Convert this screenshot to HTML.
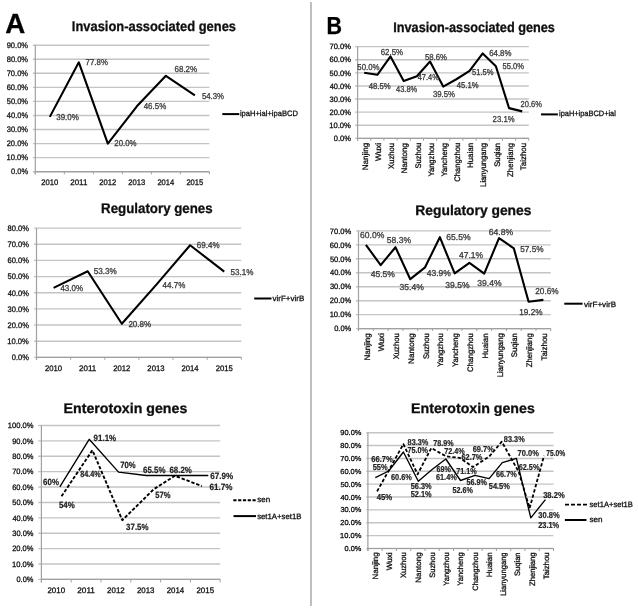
<!DOCTYPE html>
<html><head><meta charset="utf-8"><style>
html,body{margin:0;padding:0;background:#fff;}
body{width:638px;height:608px;overflow:hidden;}
svg{display:block;font-family:"Liberation Sans", sans-serif;text-rendering:geometricPrecision;}
</style></head><body>
<svg width="638" height="608" viewBox="0 0 638 608">
<defs><filter id="bl" filterUnits="userSpaceOnUse" x="0" y="0" width="638" height="608"><feGaussianBlur stdDeviation="0.5"/></filter></defs>
<rect width="638" height="608" fill="#fff"/>
<g filter="url(#bl)">
<line x1="311.00" y1="2.00" x2="311.00" y2="606.00" stroke="#a8a8a8" stroke-width="1.5"/>
<text x="5.31" y="33.40" font-size="27.8" font-weight="bold" fill="#000" stroke="#000" stroke-width="0.3" textLength="20.02" lengthAdjust="spacingAndGlyphs">A</text>
<text x="326.56" y="33.80" font-size="24.6" font-weight="bold" fill="#000" stroke="#000" stroke-width="0.3" textLength="15.51" lengthAdjust="spacingAndGlyphs">B</text>
<text x="71.84" y="30.70" font-size="14.0" font-weight="bold" fill="#111" stroke="#111" stroke-width="0.3" textLength="164.19" lengthAdjust="spacingAndGlyphs">Invasion-associated genes</text>
<line x1="32.90" y1="171.70" x2="209.40" y2="171.70" stroke="#c4c4c4" stroke-width="1.4"/>
<text x="10.97" y="174.45" font-size="8.0" fill="#141414" stroke="#141414" stroke-width="0.3" textLength="17.10" lengthAdjust="spacingAndGlyphs">0.0%</text>
<line x1="32.90" y1="157.64" x2="209.40" y2="157.64" stroke="#c4c4c4" stroke-width="1.4"/>
<text x="6.44" y="160.40" font-size="8.0" fill="#141414" stroke="#141414" stroke-width="0.3" textLength="21.63" lengthAdjust="spacingAndGlyphs">10.0%</text>
<line x1="32.90" y1="143.59" x2="209.40" y2="143.59" stroke="#c4c4c4" stroke-width="1.4"/>
<text x="6.65" y="146.34" font-size="8.0" fill="#141414" stroke="#141414" stroke-width="0.3" textLength="21.42" lengthAdjust="spacingAndGlyphs">20.0%</text>
<line x1="32.90" y1="129.53" x2="209.40" y2="129.53" stroke="#c4c4c4" stroke-width="1.4"/>
<text x="6.74" y="132.29" font-size="8.0" fill="#141414" stroke="#141414" stroke-width="0.3" textLength="21.33" lengthAdjust="spacingAndGlyphs">30.0%</text>
<line x1="32.90" y1="115.48" x2="209.40" y2="115.48" stroke="#c4c4c4" stroke-width="1.4"/>
<text x="6.85" y="118.23" font-size="8.0" fill="#141414" stroke="#141414" stroke-width="0.3" textLength="21.21" lengthAdjust="spacingAndGlyphs">40.0%</text>
<line x1="32.90" y1="101.42" x2="209.40" y2="101.42" stroke="#c4c4c4" stroke-width="1.4"/>
<text x="6.72" y="104.18" font-size="8.0" fill="#141414" stroke="#141414" stroke-width="0.3" textLength="21.34" lengthAdjust="spacingAndGlyphs">50.0%</text>
<line x1="32.90" y1="87.37" x2="209.40" y2="87.37" stroke="#c4c4c4" stroke-width="1.4"/>
<text x="6.64" y="90.12" font-size="8.0" fill="#141414" stroke="#141414" stroke-width="0.3" textLength="21.43" lengthAdjust="spacingAndGlyphs">60.0%</text>
<line x1="32.90" y1="73.31" x2="209.40" y2="73.31" stroke="#c4c4c4" stroke-width="1.4"/>
<text x="6.64" y="76.07" font-size="8.0" fill="#141414" stroke="#141414" stroke-width="0.3" textLength="21.43" lengthAdjust="spacingAndGlyphs">70.0%</text>
<line x1="32.90" y1="59.26" x2="209.40" y2="59.26" stroke="#c4c4c4" stroke-width="1.4"/>
<text x="6.70" y="62.01" font-size="8.0" fill="#141414" stroke="#141414" stroke-width="0.3" textLength="21.37" lengthAdjust="spacingAndGlyphs">80.0%</text>
<line x1="32.90" y1="45.20" x2="209.40" y2="45.20" stroke="#c4c4c4" stroke-width="1.4"/>
<text x="6.67" y="47.95" font-size="8.0" fill="#141414" stroke="#141414" stroke-width="0.3" textLength="21.40" lengthAdjust="spacingAndGlyphs">90.0%</text>
<line x1="35.30" y1="45.20" x2="35.30" y2="174.30" stroke="#a0a0a0" stroke-width="1.2"/>
<line x1="35.30" y1="171.70" x2="209.40" y2="171.70" stroke="#a0a0a0" stroke-width="1.2"/>
<line x1="35.30" y1="171.70" x2="35.30" y2="174.30" stroke="#a0a0a0" stroke-width="1.0"/>
<line x1="64.32" y1="171.70" x2="64.32" y2="174.30" stroke="#a0a0a0" stroke-width="1.0"/>
<line x1="93.33" y1="171.70" x2="93.33" y2="174.30" stroke="#a0a0a0" stroke-width="1.0"/>
<line x1="122.35" y1="171.70" x2="122.35" y2="174.30" stroke="#a0a0a0" stroke-width="1.0"/>
<line x1="151.37" y1="171.70" x2="151.37" y2="174.30" stroke="#a0a0a0" stroke-width="1.0"/>
<line x1="180.38" y1="171.70" x2="180.38" y2="174.30" stroke="#a0a0a0" stroke-width="1.0"/>
<line x1="209.40" y1="171.70" x2="209.40" y2="174.30" stroke="#a0a0a0" stroke-width="1.0"/>
<text x="41.31" y="184.75" font-size="8.0" fill="#141414" stroke="#141414" stroke-width="0.3" textLength="16.90" lengthAdjust="spacingAndGlyphs">2010</text>
<text x="70.33" y="184.75" font-size="8.0" fill="#141414" stroke="#141414" stroke-width="0.3" textLength="16.98" lengthAdjust="spacingAndGlyphs">2011</text>
<text x="99.35" y="184.75" font-size="8.0" fill="#141414" stroke="#141414" stroke-width="0.3" textLength="16.99" lengthAdjust="spacingAndGlyphs">2012</text>
<text x="128.36" y="184.75" font-size="8.0" fill="#141414" stroke="#141414" stroke-width="0.3" textLength="16.94" lengthAdjust="spacingAndGlyphs">2013</text>
<text x="157.38" y="184.75" font-size="8.0" fill="#141414" stroke="#141414" stroke-width="0.3" textLength="16.83" lengthAdjust="spacingAndGlyphs">2014</text>
<text x="186.40" y="184.75" font-size="8.0" fill="#141414" stroke="#141414" stroke-width="0.3" textLength="16.93" lengthAdjust="spacingAndGlyphs">2015</text>
<polyline points="49.81,116.88 78.83,62.35 107.84,143.59 136.86,106.34 165.88,75.84 194.89,95.38" fill="none" stroke="#000" stroke-width="2.1" stroke-linejoin="round"/>
<text x="56.20" y="120.36" font-size="8.6" fill="#3c3c3c" stroke="#3c3c3c" stroke-width="0.3" textLength="22.69" lengthAdjust="spacingAndGlyphs">39.0%</text>
<text x="85.60" y="65.46" font-size="8.6" fill="#3c3c3c" stroke="#3c3c3c" stroke-width="0.3" textLength="22.28" lengthAdjust="spacingAndGlyphs">77.8%</text>
<text x="114.30" y="146.06" font-size="8.6" fill="#3c3c3c" stroke="#3c3c3c" stroke-width="0.3" textLength="22.28" lengthAdjust="spacingAndGlyphs">20.0%</text>
<text x="143.72" y="109.06" font-size="8.6" fill="#3c3c3c" stroke="#3c3c3c" stroke-width="0.3" textLength="22.46" lengthAdjust="spacingAndGlyphs">46.5%</text>
<text x="174.49" y="71.96" font-size="8.6" fill="#3c3c3c" stroke="#3c3c3c" stroke-width="0.3" textLength="22.69" lengthAdjust="spacingAndGlyphs">68.2%</text>
<text x="201.89" y="98.66" font-size="8.6" fill="#3c3c3c" stroke="#3c3c3c" stroke-width="0.3" textLength="22.19" lengthAdjust="spacingAndGlyphs">54.3%</text>
<line x1="222.30" y1="114.10" x2="239.30" y2="114.10" stroke="#000" stroke-width="2"/>
<text x="239.89" y="115.92" font-size="7.8" fill="#141414" stroke="#141414" stroke-width="0.3" textLength="57.97" lengthAdjust="spacingAndGlyphs">ipaH+ial+ipaBCD</text>
<text x="101.11" y="213.10" font-size="14.0" font-weight="bold" fill="#111" stroke="#111" stroke-width="0.3" textLength="111.53" lengthAdjust="spacingAndGlyphs">Regulatory genes</text>
<line x1="34.00" y1="357.40" x2="241.30" y2="357.40" stroke="#c4c4c4" stroke-width="1.4"/>
<text x="11.77" y="360.15" font-size="8.0" fill="#141414" stroke="#141414" stroke-width="0.3" textLength="17.10" lengthAdjust="spacingAndGlyphs">0.0%</text>
<line x1="34.00" y1="341.24" x2="241.30" y2="341.24" stroke="#c4c4c4" stroke-width="1.4"/>
<text x="7.24" y="343.99" font-size="8.0" fill="#141414" stroke="#141414" stroke-width="0.3" textLength="21.63" lengthAdjust="spacingAndGlyphs">10.0%</text>
<line x1="34.00" y1="325.07" x2="241.30" y2="325.07" stroke="#c4c4c4" stroke-width="1.4"/>
<text x="7.45" y="327.83" font-size="8.0" fill="#141414" stroke="#141414" stroke-width="0.3" textLength="21.42" lengthAdjust="spacingAndGlyphs">20.0%</text>
<line x1="34.00" y1="308.91" x2="241.30" y2="308.91" stroke="#c4c4c4" stroke-width="1.4"/>
<text x="7.54" y="311.67" font-size="8.0" fill="#141414" stroke="#141414" stroke-width="0.3" textLength="21.33" lengthAdjust="spacingAndGlyphs">30.0%</text>
<line x1="34.00" y1="292.75" x2="241.30" y2="292.75" stroke="#c4c4c4" stroke-width="1.4"/>
<text x="7.65" y="295.50" font-size="8.0" fill="#141414" stroke="#141414" stroke-width="0.3" textLength="21.21" lengthAdjust="spacingAndGlyphs">40.0%</text>
<line x1="34.00" y1="276.59" x2="241.30" y2="276.59" stroke="#c4c4c4" stroke-width="1.4"/>
<text x="7.52" y="279.34" font-size="8.0" fill="#141414" stroke="#141414" stroke-width="0.3" textLength="21.34" lengthAdjust="spacingAndGlyphs">50.0%</text>
<line x1="34.00" y1="260.42" x2="241.30" y2="260.42" stroke="#c4c4c4" stroke-width="1.4"/>
<text x="7.44" y="263.18" font-size="8.0" fill="#141414" stroke="#141414" stroke-width="0.3" textLength="21.43" lengthAdjust="spacingAndGlyphs">60.0%</text>
<line x1="34.00" y1="244.26" x2="241.30" y2="244.26" stroke="#c4c4c4" stroke-width="1.4"/>
<text x="7.44" y="247.02" font-size="8.0" fill="#141414" stroke="#141414" stroke-width="0.3" textLength="21.43" lengthAdjust="spacingAndGlyphs">70.0%</text>
<line x1="34.00" y1="228.10" x2="241.30" y2="228.10" stroke="#c4c4c4" stroke-width="1.4"/>
<text x="7.50" y="230.85" font-size="8.0" fill="#141414" stroke="#141414" stroke-width="0.3" textLength="21.37" lengthAdjust="spacingAndGlyphs">80.0%</text>
<line x1="36.50" y1="228.10" x2="36.50" y2="359.80" stroke="#a0a0a0" stroke-width="1.2"/>
<line x1="36.50" y1="357.40" x2="241.30" y2="357.40" stroke="#a0a0a0" stroke-width="1.2"/>
<line x1="36.50" y1="357.40" x2="36.50" y2="359.80" stroke="#a0a0a0" stroke-width="1.0"/>
<line x1="70.63" y1="357.40" x2="70.63" y2="359.80" stroke="#a0a0a0" stroke-width="1.0"/>
<line x1="104.77" y1="357.40" x2="104.77" y2="359.80" stroke="#a0a0a0" stroke-width="1.0"/>
<line x1="138.90" y1="357.40" x2="138.90" y2="359.80" stroke="#a0a0a0" stroke-width="1.0"/>
<line x1="173.03" y1="357.40" x2="173.03" y2="359.80" stroke="#a0a0a0" stroke-width="1.0"/>
<line x1="207.17" y1="357.40" x2="207.17" y2="359.80" stroke="#a0a0a0" stroke-width="1.0"/>
<line x1="241.30" y1="357.40" x2="241.30" y2="359.80" stroke="#a0a0a0" stroke-width="1.0"/>
<text x="44.97" y="370.65" font-size="8.0" fill="#141414" stroke="#141414" stroke-width="0.3" textLength="17.11" lengthAdjust="spacingAndGlyphs">2010</text>
<text x="79.10" y="370.65" font-size="8.0" fill="#141414" stroke="#141414" stroke-width="0.3" textLength="17.19" lengthAdjust="spacingAndGlyphs">2011</text>
<text x="113.23" y="370.65" font-size="8.0" fill="#141414" stroke="#141414" stroke-width="0.3" textLength="17.20" lengthAdjust="spacingAndGlyphs">2012</text>
<text x="147.37" y="370.65" font-size="8.0" fill="#141414" stroke="#141414" stroke-width="0.3" textLength="17.15" lengthAdjust="spacingAndGlyphs">2013</text>
<text x="181.50" y="370.65" font-size="8.0" fill="#141414" stroke="#141414" stroke-width="0.3" textLength="17.04" lengthAdjust="spacingAndGlyphs">2014</text>
<text x="215.63" y="370.65" font-size="8.0" fill="#141414" stroke="#141414" stroke-width="0.3" textLength="17.14" lengthAdjust="spacingAndGlyphs">2015</text>
<polyline points="53.57,287.90 87.70,271.25 121.83,323.78 155.97,285.15 190.10,245.23 224.23,271.58" fill="none" stroke="#000" stroke-width="2.1" stroke-linejoin="round"/>
<text x="60.42" y="290.86" font-size="8.6" fill="#3c3c3c" stroke="#3c3c3c" stroke-width="0.3" textLength="22.67" lengthAdjust="spacingAndGlyphs">43.0%</text>
<text x="93.67" y="274.16" font-size="8.6" fill="#3c3c3c" stroke="#3c3c3c" stroke-width="0.3" textLength="23.22" lengthAdjust="spacingAndGlyphs">53.3%</text>
<text x="128.39" y="326.56" font-size="8.6" fill="#3c3c3c" stroke="#3c3c3c" stroke-width="0.3" textLength="22.89" lengthAdjust="spacingAndGlyphs">20.8%</text>
<text x="162.52" y="288.06" font-size="8.6" fill="#3c3c3c" stroke="#3c3c3c" stroke-width="0.3" textLength="22.77" lengthAdjust="spacingAndGlyphs">44.7%</text>
<text x="196.79" y="248.26" font-size="8.6" fill="#3c3c3c" stroke="#3c3c3c" stroke-width="0.3" textLength="22.79" lengthAdjust="spacingAndGlyphs">69.4%</text>
<text x="230.48" y="274.56" font-size="8.6" fill="#3c3c3c" stroke="#3c3c3c" stroke-width="0.3" textLength="23.01" lengthAdjust="spacingAndGlyphs">53.1%</text>
<line x1="254.20" y1="298.50" x2="271.50" y2="298.50" stroke="#000" stroke-width="2"/>
<text x="272.57" y="301.43" font-size="7.8" fill="#141414" stroke="#141414" stroke-width="0.3" textLength="31.75" lengthAdjust="spacingAndGlyphs">virF+virB</text>
<text x="63.55" y="412.70" font-size="14.0" font-weight="bold" fill="#111" stroke="#111" stroke-width="0.3" textLength="123.73" lengthAdjust="spacingAndGlyphs">Enterotoxin genes</text>
<line x1="38.20" y1="579.40" x2="220.20" y2="579.40" stroke="#c4c4c4" stroke-width="1.4"/>
<text x="16.47" y="582.09" font-size="7.8" fill="#141414" stroke="#141414" stroke-width="0.3" textLength="17.00" lengthAdjust="spacingAndGlyphs">0.0%</text>
<line x1="38.20" y1="564.01" x2="220.20" y2="564.01" stroke="#c4c4c4" stroke-width="1.4"/>
<text x="11.97" y="566.70" font-size="7.8" fill="#141414" stroke="#141414" stroke-width="0.3" textLength="21.50" lengthAdjust="spacingAndGlyphs">10.0%</text>
<line x1="38.20" y1="548.62" x2="220.20" y2="548.62" stroke="#c4c4c4" stroke-width="1.4"/>
<text x="12.17" y="551.31" font-size="7.8" fill="#141414" stroke="#141414" stroke-width="0.3" textLength="21.30" lengthAdjust="spacingAndGlyphs">20.0%</text>
<line x1="38.20" y1="533.23" x2="220.20" y2="533.23" stroke="#c4c4c4" stroke-width="1.4"/>
<text x="12.26" y="535.92" font-size="7.8" fill="#141414" stroke="#141414" stroke-width="0.3" textLength="21.20" lengthAdjust="spacingAndGlyphs">30.0%</text>
<line x1="38.20" y1="517.84" x2="220.20" y2="517.84" stroke="#c4c4c4" stroke-width="1.4"/>
<text x="12.38" y="520.53" font-size="7.8" fill="#141414" stroke="#141414" stroke-width="0.3" textLength="21.09" lengthAdjust="spacingAndGlyphs">40.0%</text>
<line x1="38.20" y1="502.45" x2="220.20" y2="502.45" stroke="#c4c4c4" stroke-width="1.4"/>
<text x="12.25" y="505.14" font-size="7.8" fill="#141414" stroke="#141414" stroke-width="0.3" textLength="21.22" lengthAdjust="spacingAndGlyphs">50.0%</text>
<line x1="38.20" y1="487.06" x2="220.20" y2="487.06" stroke="#c4c4c4" stroke-width="1.4"/>
<text x="12.17" y="489.75" font-size="7.8" fill="#141414" stroke="#141414" stroke-width="0.3" textLength="21.30" lengthAdjust="spacingAndGlyphs">60.0%</text>
<line x1="38.20" y1="471.67" x2="220.20" y2="471.67" stroke="#c4c4c4" stroke-width="1.4"/>
<text x="12.16" y="474.36" font-size="7.8" fill="#141414" stroke="#141414" stroke-width="0.3" textLength="21.30" lengthAdjust="spacingAndGlyphs">70.0%</text>
<line x1="38.20" y1="456.28" x2="220.20" y2="456.28" stroke="#c4c4c4" stroke-width="1.4"/>
<text x="12.22" y="458.97" font-size="7.8" fill="#141414" stroke="#141414" stroke-width="0.3" textLength="21.24" lengthAdjust="spacingAndGlyphs">80.0%</text>
<line x1="38.20" y1="440.89" x2="220.20" y2="440.89" stroke="#c4c4c4" stroke-width="1.4"/>
<text x="12.20" y="443.58" font-size="7.8" fill="#141414" stroke="#141414" stroke-width="0.3" textLength="21.27" lengthAdjust="spacingAndGlyphs">90.0%</text>
<line x1="38.20" y1="425.50" x2="220.20" y2="425.50" stroke="#c4c4c4" stroke-width="1.4"/>
<text x="7.76" y="428.19" font-size="7.8" fill="#141414" stroke="#141414" stroke-width="0.3" textLength="25.71" lengthAdjust="spacingAndGlyphs">100.0%</text>
<line x1="41.40" y1="425.50" x2="41.40" y2="582.50" stroke="#a0a0a0" stroke-width="1.2"/>
<line x1="41.40" y1="579.40" x2="220.20" y2="579.40" stroke="#a0a0a0" stroke-width="1.2"/>
<line x1="41.40" y1="579.40" x2="41.40" y2="582.50" stroke="#a0a0a0" stroke-width="1.0"/>
<line x1="71.20" y1="579.40" x2="71.20" y2="582.50" stroke="#a0a0a0" stroke-width="1.0"/>
<line x1="101.00" y1="579.40" x2="101.00" y2="582.50" stroke="#a0a0a0" stroke-width="1.0"/>
<line x1="130.80" y1="579.40" x2="130.80" y2="582.50" stroke="#a0a0a0" stroke-width="1.0"/>
<line x1="160.60" y1="579.40" x2="160.60" y2="582.50" stroke="#a0a0a0" stroke-width="1.0"/>
<line x1="190.40" y1="579.40" x2="190.40" y2="582.50" stroke="#a0a0a0" stroke-width="1.0"/>
<line x1="220.20" y1="579.40" x2="220.20" y2="582.50" stroke="#a0a0a0" stroke-width="1.0"/>
<text x="47.49" y="592.55" font-size="8.0" fill="#141414" stroke="#141414" stroke-width="0.3" textLength="17.54" lengthAdjust="spacingAndGlyphs">2010</text>
<text x="77.29" y="592.55" font-size="8.0" fill="#141414" stroke="#141414" stroke-width="0.3" textLength="17.62" lengthAdjust="spacingAndGlyphs">2011</text>
<text x="107.09" y="592.55" font-size="8.0" fill="#141414" stroke="#141414" stroke-width="0.3" textLength="17.63" lengthAdjust="spacingAndGlyphs">2012</text>
<text x="136.89" y="592.55" font-size="8.0" fill="#141414" stroke="#141414" stroke-width="0.3" textLength="17.58" lengthAdjust="spacingAndGlyphs">2013</text>
<text x="166.69" y="592.55" font-size="8.0" fill="#141414" stroke="#141414" stroke-width="0.3" textLength="17.46" lengthAdjust="spacingAndGlyphs">2014</text>
<text x="196.49" y="592.55" font-size="8.0" fill="#141414" stroke="#141414" stroke-width="0.3" textLength="17.56" lengthAdjust="spacingAndGlyphs">2015</text>
<polyline points="59.80,486.80 89.20,439.30 118.60,472.10 146.20,475.50 175.30,475.50 208.30,475.50" fill="none" stroke="#000" stroke-width="1.35" stroke-linejoin="round"/>
<polyline points="61.50,496.30 92.40,450.20 122.30,520.20 153.80,489.20 174.90,475.80 201.90,486.10" fill="none" stroke="#000" stroke-width="1.9" stroke-linejoin="round" stroke-dasharray="3.4,1.8"/>
<text x="43.11" y="485.20" font-size="9.0" font-weight="bold" fill="#222222" stroke="#222222" stroke-width="0.2" textLength="15.90" lengthAdjust="spacingAndGlyphs">60%</text>
<text x="58.96" y="508.49" font-size="9.0" font-weight="bold" fill="#222222" stroke="#222222" stroke-width="0.2" textLength="15.85" lengthAdjust="spacingAndGlyphs">54%</text>
<text x="80.27" y="477.30" font-size="9.0" font-weight="bold" fill="#222222" stroke="#222222" stroke-width="0.2" textLength="20.52" lengthAdjust="spacingAndGlyphs">84.4%</text>
<text x="93.62" y="440.50" font-size="9.0" font-weight="bold" fill="#222222" stroke="#222222" stroke-width="0.2" textLength="22.59" lengthAdjust="spacingAndGlyphs">91.1%</text>
<text x="120.27" y="468.10" font-size="9.0" font-weight="bold" fill="#222222" stroke="#222222" stroke-width="0.2" textLength="15.43" lengthAdjust="spacingAndGlyphs">70%</text>
<text x="126.12" y="529.99" font-size="9.0" font-weight="bold" fill="#222222" stroke="#222222" stroke-width="0.2" textLength="22.39" lengthAdjust="spacingAndGlyphs">37.5%</text>
<text x="143.01" y="473.10" font-size="9.0" font-weight="bold" fill="#222222" stroke="#222222" stroke-width="0.2" textLength="22.50" lengthAdjust="spacingAndGlyphs">65.5%</text>
<text x="169.41" y="473.20" font-size="9.0" font-weight="bold" fill="#222222" stroke="#222222" stroke-width="0.2" textLength="22.40" lengthAdjust="spacingAndGlyphs">68.2%</text>
<text x="155.27" y="498.09" font-size="9.0" font-weight="bold" fill="#222222" stroke="#222222" stroke-width="0.2" textLength="15.23" lengthAdjust="spacingAndGlyphs">57%</text>
<text x="210.20" y="479.30" font-size="9.0" font-weight="bold" fill="#222222" stroke="#222222" stroke-width="0.2" textLength="22.91" lengthAdjust="spacingAndGlyphs">67.9%</text>
<text x="209.50" y="489.60" font-size="9.0" font-weight="bold" fill="#222222" stroke="#222222" stroke-width="0.2" textLength="23.01" lengthAdjust="spacingAndGlyphs">61.7%</text>
<line x1="233.30" y1="500.30" x2="255.70" y2="500.30" stroke="#000" stroke-width="1.9" stroke-dasharray="3.2,1.6"/>
<text x="257.18" y="502.06" font-size="7.8" fill="#141414" stroke="#141414" stroke-width="0.3" textLength="12.94" lengthAdjust="spacingAndGlyphs">sen</text>
<line x1="233.50" y1="516.10" x2="256.00" y2="516.10" stroke="#000" stroke-width="2"/>
<text x="257.18" y="518.65" font-size="7.8" fill="#141414" stroke="#141414" stroke-width="0.3" textLength="44.23" lengthAdjust="spacingAndGlyphs">set1A+set1B</text>
<text x="393.25" y="31.90" font-size="14.0" font-weight="bold" fill="#111" stroke="#111" stroke-width="0.3" textLength="161.67" lengthAdjust="spacingAndGlyphs">Invasion-associated genes</text>
<line x1="355.00" y1="138.40" x2="528.80" y2="138.40" stroke="#c4c4c4" stroke-width="1.4"/>
<text x="333.77" y="141.09" font-size="7.8" fill="#141414" stroke="#141414" stroke-width="0.3" textLength="17.10" lengthAdjust="spacingAndGlyphs">0.0%</text>
<line x1="355.00" y1="125.29" x2="528.80" y2="125.29" stroke="#c4c4c4" stroke-width="1.4"/>
<text x="329.24" y="127.97" font-size="7.8" fill="#141414" stroke="#141414" stroke-width="0.3" textLength="21.63" lengthAdjust="spacingAndGlyphs">10.0%</text>
<line x1="355.00" y1="112.17" x2="528.80" y2="112.17" stroke="#c4c4c4" stroke-width="1.4"/>
<text x="329.45" y="114.86" font-size="7.8" fill="#141414" stroke="#141414" stroke-width="0.3" textLength="21.42" lengthAdjust="spacingAndGlyphs">20.0%</text>
<line x1="355.00" y1="99.06" x2="528.80" y2="99.06" stroke="#c4c4c4" stroke-width="1.4"/>
<text x="329.54" y="101.74" font-size="7.8" fill="#141414" stroke="#141414" stroke-width="0.3" textLength="21.33" lengthAdjust="spacingAndGlyphs">30.0%</text>
<line x1="355.00" y1="85.94" x2="528.80" y2="85.94" stroke="#c4c4c4" stroke-width="1.4"/>
<text x="329.65" y="88.63" font-size="7.8" fill="#141414" stroke="#141414" stroke-width="0.3" textLength="21.21" lengthAdjust="spacingAndGlyphs">40.0%</text>
<line x1="355.00" y1="72.83" x2="528.80" y2="72.83" stroke="#c4c4c4" stroke-width="1.4"/>
<text x="329.52" y="75.51" font-size="7.8" fill="#141414" stroke="#141414" stroke-width="0.3" textLength="21.34" lengthAdjust="spacingAndGlyphs">50.0%</text>
<line x1="355.00" y1="59.71" x2="528.80" y2="59.71" stroke="#c4c4c4" stroke-width="1.4"/>
<text x="329.44" y="62.40" font-size="7.8" fill="#141414" stroke="#141414" stroke-width="0.3" textLength="21.43" lengthAdjust="spacingAndGlyphs">60.0%</text>
<line x1="355.00" y1="46.60" x2="528.80" y2="46.60" stroke="#c4c4c4" stroke-width="1.4"/>
<text x="329.44" y="49.29" font-size="7.8" fill="#141414" stroke="#141414" stroke-width="0.3" textLength="21.43" lengthAdjust="spacingAndGlyphs">70.0%</text>
<line x1="357.60" y1="46.60" x2="357.60" y2="140.80" stroke="#a0a0a0" stroke-width="1.2"/>
<line x1="357.60" y1="138.40" x2="528.80" y2="138.40" stroke="#a0a0a0" stroke-width="1.2"/>
<line x1="357.60" y1="138.40" x2="357.60" y2="140.80" stroke="#a0a0a0" stroke-width="1.0"/>
<line x1="370.77" y1="138.40" x2="370.77" y2="140.80" stroke="#a0a0a0" stroke-width="1.0"/>
<line x1="383.94" y1="138.40" x2="383.94" y2="140.80" stroke="#a0a0a0" stroke-width="1.0"/>
<line x1="397.11" y1="138.40" x2="397.11" y2="140.80" stroke="#a0a0a0" stroke-width="1.0"/>
<line x1="410.28" y1="138.40" x2="410.28" y2="140.80" stroke="#a0a0a0" stroke-width="1.0"/>
<line x1="423.45" y1="138.40" x2="423.45" y2="140.80" stroke="#a0a0a0" stroke-width="1.0"/>
<line x1="436.62" y1="138.40" x2="436.62" y2="140.80" stroke="#a0a0a0" stroke-width="1.0"/>
<line x1="449.78" y1="138.40" x2="449.78" y2="140.80" stroke="#a0a0a0" stroke-width="1.0"/>
<line x1="462.95" y1="138.40" x2="462.95" y2="140.80" stroke="#a0a0a0" stroke-width="1.0"/>
<line x1="476.12" y1="138.40" x2="476.12" y2="140.80" stroke="#a0a0a0" stroke-width="1.0"/>
<line x1="489.29" y1="138.40" x2="489.29" y2="140.80" stroke="#a0a0a0" stroke-width="1.0"/>
<line x1="502.46" y1="138.40" x2="502.46" y2="140.80" stroke="#a0a0a0" stroke-width="1.0"/>
<line x1="515.63" y1="138.40" x2="515.63" y2="140.80" stroke="#a0a0a0" stroke-width="1.0"/>
<line x1="528.80" y1="138.40" x2="528.80" y2="140.80" stroke="#a0a0a0" stroke-width="1.0"/>
<text x="0" y="0" transform="translate(367.89,170.22) rotate(-90)" font-size="8.0" fill="#141414" stroke="#141414" stroke-width="0.3" textLength="27.34" lengthAdjust="spacingAndGlyphs">Nanjing</text>
<text x="0" y="0" transform="translate(381.06,160.88) rotate(-90)" font-size="8.0" fill="#141414" stroke="#141414" stroke-width="0.3" textLength="18.03" lengthAdjust="spacingAndGlyphs">Wuxi</text>
<text x="0" y="0" transform="translate(394.23,168.91) rotate(-90)" font-size="8.0" fill="#141414" stroke="#141414" stroke-width="0.3" textLength="26.02" lengthAdjust="spacingAndGlyphs">Xuzhou</text>
<text x="0" y="0" transform="translate(407.40,173.53) rotate(-90)" font-size="8.0" fill="#141414" stroke="#141414" stroke-width="0.3" textLength="30.65" lengthAdjust="spacingAndGlyphs">Nantong</text>
<text x="0" y="0" transform="translate(420.57,168.57) rotate(-90)" font-size="8.0" fill="#141414" stroke="#141414" stroke-width="0.3" textLength="25.68" lengthAdjust="spacingAndGlyphs">Suzhou</text>
<text x="0" y="0" transform="translate(433.73,176.61) rotate(-90)" font-size="8.0" fill="#141414" stroke="#141414" stroke-width="0.3" textLength="33.71" lengthAdjust="spacingAndGlyphs">Yangzhou</text>
<text x="0" y="0" transform="translate(446.90,176.60) rotate(-90)" font-size="8.0" fill="#141414" stroke="#141414" stroke-width="0.3" textLength="33.68" lengthAdjust="spacingAndGlyphs">Yancheng</text>
<text x="0" y="0" transform="translate(460.07,181.63) rotate(-90)" font-size="8.0" fill="#141414" stroke="#141414" stroke-width="0.3" textLength="38.73" lengthAdjust="spacingAndGlyphs">Changzhou</text>
<text x="0" y="0" transform="translate(473.24,168.08) rotate(-90)" font-size="8.0" fill="#141414" stroke="#141414" stroke-width="0.3" textLength="25.19" lengthAdjust="spacingAndGlyphs">Huaian</text>
<text x="0" y="0" transform="translate(486.41,186.89) rotate(-90)" font-size="8.0" fill="#141414" stroke="#141414" stroke-width="0.3" textLength="43.98" lengthAdjust="spacingAndGlyphs">Lianyungang</text>
<text x="0" y="0" transform="translate(499.58,166.78) rotate(-90)" font-size="8.0" fill="#141414" stroke="#141414" stroke-width="0.3" textLength="23.88" lengthAdjust="spacingAndGlyphs">Suqian</text>
<text x="0" y="0" transform="translate(512.75,176.90) rotate(-90)" font-size="8.0" fill="#141414" stroke="#141414" stroke-width="0.3" textLength="34.00" lengthAdjust="spacingAndGlyphs">Zhenjiang</text>
<text x="0" y="0" transform="translate(525.92,170.18) rotate(-90)" font-size="8.0" fill="#141414" stroke="#141414" stroke-width="0.3" textLength="27.28" lengthAdjust="spacingAndGlyphs">Taizhou</text>
<polyline points="364.18,72.83 377.35,74.80 390.52,56.44 403.69,80.96 416.86,76.24 430.03,61.55 443.20,86.60 456.37,79.25 469.54,70.86 482.71,53.42 495.88,66.27 509.05,108.11 522.22,111.38" fill="none" stroke="#000" stroke-width="2.1" stroke-linejoin="round"/>
<text x="357.29" y="70.26" font-size="8.6" fill="#3c3c3c" stroke="#3c3c3c" stroke-width="0.3" textLength="22.19" lengthAdjust="spacingAndGlyphs">50.0%</text>
<text x="368.72" y="89.16" font-size="8.6" fill="#3c3c3c" stroke="#3c3c3c" stroke-width="0.3" textLength="22.06" lengthAdjust="spacingAndGlyphs">48.5%</text>
<text x="380.70" y="54.56" font-size="8.6" fill="#3c3c3c" stroke="#3c3c3c" stroke-width="0.3" textLength="22.38" lengthAdjust="spacingAndGlyphs">62.5%</text>
<text x="396.03" y="92.46" font-size="8.6" fill="#3c3c3c" stroke="#3c3c3c" stroke-width="0.3" textLength="21.14" lengthAdjust="spacingAndGlyphs">43.8%</text>
<text x="417.63" y="79.76" font-size="8.6" fill="#3c3c3c" stroke="#3c3c3c" stroke-width="0.3" textLength="21.14" lengthAdjust="spacingAndGlyphs">47.4%</text>
<text x="424.99" y="59.56" font-size="8.6" fill="#3c3c3c" stroke="#3c3c3c" stroke-width="0.3" textLength="21.99" lengthAdjust="spacingAndGlyphs">58.6%</text>
<text x="432.90" y="97.16" font-size="8.6" fill="#3c3c3c" stroke="#3c3c3c" stroke-width="0.3" textLength="22.18" lengthAdjust="spacingAndGlyphs">39.5%</text>
<text x="456.82" y="87.74" font-size="8.6" fill="#3c3c3c" stroke="#3c3c3c" stroke-width="0.3" textLength="21.75" lengthAdjust="spacingAndGlyphs">45.1%</text>
<text x="472.00" y="75.14" font-size="8.6" fill="#3c3c3c" stroke="#3c3c3c" stroke-width="0.3" textLength="21.58" lengthAdjust="spacingAndGlyphs">51.5%</text>
<text x="489.20" y="56.16" font-size="8.6" fill="#3c3c3c" stroke="#3c3c3c" stroke-width="0.3" textLength="22.28" lengthAdjust="spacingAndGlyphs">64.8%</text>
<text x="502.50" y="68.96" font-size="8.6" fill="#3c3c3c" stroke="#3c3c3c" stroke-width="0.3" textLength="21.58" lengthAdjust="spacingAndGlyphs">55.0%</text>
<text x="492.61" y="121.76" font-size="8.6" fill="#3c3c3c" stroke="#3c3c3c" stroke-width="0.3" textLength="21.97" lengthAdjust="spacingAndGlyphs">23.1%</text>
<text x="520.52" y="106.76" font-size="8.6" fill="#3c3c3c" stroke="#3c3c3c" stroke-width="0.3" textLength="21.35" lengthAdjust="spacingAndGlyphs">20.6%</text>
<line x1="541.00" y1="114.40" x2="557.90" y2="114.40" stroke="#000" stroke-width="2"/>
<text x="559.00" y="116.12" font-size="7.8" fill="#141414" stroke="#141414" stroke-width="0.3" textLength="56.89" lengthAdjust="spacingAndGlyphs">ipaH+ipaBCD+ial</text>
<text x="415.37" y="214.60" font-size="14.0" font-weight="bold" fill="#111" stroke="#111" stroke-width="0.3" textLength="116.09" lengthAdjust="spacingAndGlyphs">Regulatory genes</text>
<line x1="355.90" y1="328.60" x2="550.80" y2="328.60" stroke="#c4c4c4" stroke-width="1.4"/>
<text x="334.17" y="331.29" font-size="7.8" fill="#141414" stroke="#141414" stroke-width="0.3" textLength="17.10" lengthAdjust="spacingAndGlyphs">0.0%</text>
<line x1="355.90" y1="314.64" x2="550.80" y2="314.64" stroke="#c4c4c4" stroke-width="1.4"/>
<text x="329.64" y="317.33" font-size="7.8" fill="#141414" stroke="#141414" stroke-width="0.3" textLength="21.63" lengthAdjust="spacingAndGlyphs">10.0%</text>
<line x1="355.90" y1="300.69" x2="550.80" y2="300.69" stroke="#c4c4c4" stroke-width="1.4"/>
<text x="329.85" y="303.37" font-size="7.8" fill="#141414" stroke="#141414" stroke-width="0.3" textLength="21.42" lengthAdjust="spacingAndGlyphs">20.0%</text>
<line x1="355.90" y1="286.73" x2="550.80" y2="286.73" stroke="#c4c4c4" stroke-width="1.4"/>
<text x="329.94" y="289.41" font-size="7.8" fill="#141414" stroke="#141414" stroke-width="0.3" textLength="21.33" lengthAdjust="spacingAndGlyphs">30.0%</text>
<line x1="355.90" y1="272.77" x2="550.80" y2="272.77" stroke="#c4c4c4" stroke-width="1.4"/>
<text x="330.05" y="275.46" font-size="7.8" fill="#141414" stroke="#141414" stroke-width="0.3" textLength="21.21" lengthAdjust="spacingAndGlyphs">40.0%</text>
<line x1="355.90" y1="258.81" x2="550.80" y2="258.81" stroke="#c4c4c4" stroke-width="1.4"/>
<text x="329.92" y="261.50" font-size="7.8" fill="#141414" stroke="#141414" stroke-width="0.3" textLength="21.34" lengthAdjust="spacingAndGlyphs">50.0%</text>
<line x1="355.90" y1="244.86" x2="550.80" y2="244.86" stroke="#c4c4c4" stroke-width="1.4"/>
<text x="329.84" y="247.54" font-size="7.8" fill="#141414" stroke="#141414" stroke-width="0.3" textLength="21.43" lengthAdjust="spacingAndGlyphs">60.0%</text>
<line x1="355.90" y1="230.90" x2="550.80" y2="230.90" stroke="#c4c4c4" stroke-width="1.4"/>
<text x="329.84" y="233.59" font-size="7.8" fill="#141414" stroke="#141414" stroke-width="0.3" textLength="21.43" lengthAdjust="spacingAndGlyphs">70.0%</text>
<line x1="358.50" y1="230.90" x2="358.50" y2="331.00" stroke="#a0a0a0" stroke-width="1.2"/>
<line x1="358.50" y1="328.60" x2="550.80" y2="328.60" stroke="#a0a0a0" stroke-width="1.2"/>
<line x1="358.50" y1="328.60" x2="358.50" y2="331.00" stroke="#a0a0a0" stroke-width="1.0"/>
<line x1="373.29" y1="328.60" x2="373.29" y2="331.00" stroke="#a0a0a0" stroke-width="1.0"/>
<line x1="388.08" y1="328.60" x2="388.08" y2="331.00" stroke="#a0a0a0" stroke-width="1.0"/>
<line x1="402.88" y1="328.60" x2="402.88" y2="331.00" stroke="#a0a0a0" stroke-width="1.0"/>
<line x1="417.67" y1="328.60" x2="417.67" y2="331.00" stroke="#a0a0a0" stroke-width="1.0"/>
<line x1="432.46" y1="328.60" x2="432.46" y2="331.00" stroke="#a0a0a0" stroke-width="1.0"/>
<line x1="447.25" y1="328.60" x2="447.25" y2="331.00" stroke="#a0a0a0" stroke-width="1.0"/>
<line x1="462.05" y1="328.60" x2="462.05" y2="331.00" stroke="#a0a0a0" stroke-width="1.0"/>
<line x1="476.84" y1="328.60" x2="476.84" y2="331.00" stroke="#a0a0a0" stroke-width="1.0"/>
<line x1="491.63" y1="328.60" x2="491.63" y2="331.00" stroke="#a0a0a0" stroke-width="1.0"/>
<line x1="506.42" y1="328.60" x2="506.42" y2="331.00" stroke="#a0a0a0" stroke-width="1.0"/>
<line x1="521.22" y1="328.60" x2="521.22" y2="331.00" stroke="#a0a0a0" stroke-width="1.0"/>
<line x1="536.01" y1="328.60" x2="536.01" y2="331.00" stroke="#a0a0a0" stroke-width="1.0"/>
<line x1="550.80" y1="328.60" x2="550.80" y2="331.00" stroke="#a0a0a0" stroke-width="1.0"/>
<text x="0" y="0" transform="translate(369.50,360.62) rotate(-90)" font-size="8.0" fill="#141414" stroke="#141414" stroke-width="0.3" textLength="27.34" lengthAdjust="spacingAndGlyphs">Nanjing</text>
<text x="0" y="0" transform="translate(384.29,351.28) rotate(-90)" font-size="8.0" fill="#141414" stroke="#141414" stroke-width="0.3" textLength="18.03" lengthAdjust="spacingAndGlyphs">Wuxi</text>
<text x="0" y="0" transform="translate(399.08,359.31) rotate(-90)" font-size="8.0" fill="#141414" stroke="#141414" stroke-width="0.3" textLength="26.02" lengthAdjust="spacingAndGlyphs">Xuzhou</text>
<text x="0" y="0" transform="translate(413.88,363.93) rotate(-90)" font-size="8.0" fill="#141414" stroke="#141414" stroke-width="0.3" textLength="30.65" lengthAdjust="spacingAndGlyphs">Nantong</text>
<text x="0" y="0" transform="translate(428.67,358.97) rotate(-90)" font-size="8.0" fill="#141414" stroke="#141414" stroke-width="0.3" textLength="25.68" lengthAdjust="spacingAndGlyphs">Suzhou</text>
<text x="0" y="0" transform="translate(443.46,367.01) rotate(-90)" font-size="8.0" fill="#141414" stroke="#141414" stroke-width="0.3" textLength="33.71" lengthAdjust="spacingAndGlyphs">Yangzhou</text>
<text x="0" y="0" transform="translate(458.25,367.00) rotate(-90)" font-size="8.0" fill="#141414" stroke="#141414" stroke-width="0.3" textLength="33.68" lengthAdjust="spacingAndGlyphs">Yancheng</text>
<text x="0" y="0" transform="translate(473.05,372.03) rotate(-90)" font-size="8.0" fill="#141414" stroke="#141414" stroke-width="0.3" textLength="38.73" lengthAdjust="spacingAndGlyphs">Changzhou</text>
<text x="0" y="0" transform="translate(487.84,358.48) rotate(-90)" font-size="8.0" fill="#141414" stroke="#141414" stroke-width="0.3" textLength="25.19" lengthAdjust="spacingAndGlyphs">Huaian</text>
<text x="0" y="0" transform="translate(502.63,377.29) rotate(-90)" font-size="8.0" fill="#141414" stroke="#141414" stroke-width="0.3" textLength="43.98" lengthAdjust="spacingAndGlyphs">Lianyungang</text>
<text x="0" y="0" transform="translate(517.42,357.18) rotate(-90)" font-size="8.0" fill="#141414" stroke="#141414" stroke-width="0.3" textLength="23.88" lengthAdjust="spacingAndGlyphs">Suqian</text>
<text x="0" y="0" transform="translate(532.22,367.30) rotate(-90)" font-size="8.0" fill="#141414" stroke="#141414" stroke-width="0.3" textLength="34.00" lengthAdjust="spacingAndGlyphs">Zhenjiang</text>
<text x="0" y="0" transform="translate(547.01,360.58) rotate(-90)" font-size="8.0" fill="#141414" stroke="#141414" stroke-width="0.3" textLength="27.28" lengthAdjust="spacingAndGlyphs">Taizhou</text>
<polyline points="365.90,244.86 380.69,265.10 395.48,247.23 410.27,279.19 425.07,267.33 439.86,237.18 454.65,273.47 469.44,262.86 484.23,273.61 499.03,238.16 513.82,248.35 528.61,301.80 543.40,299.85" fill="none" stroke="#000" stroke-width="2.1" stroke-linejoin="round"/>
<text x="360.06" y="238.36" font-size="8.6" fill="#3c3c3c" stroke="#3c3c3c" stroke-width="0.3" textLength="24.34" lengthAdjust="spacingAndGlyphs">60.0%</text>
<text x="386.76" y="243.06" font-size="8.6" fill="#3c3c3c" stroke="#3c3c3c" stroke-width="0.3" textLength="24.35" lengthAdjust="spacingAndGlyphs">58.3%</text>
<text x="370.70" y="276.64" font-size="8.6" fill="#3c3c3c" stroke="#3c3c3c" stroke-width="0.3" textLength="24.20" lengthAdjust="spacingAndGlyphs">45.5%</text>
<text x="399.57" y="290.46" font-size="8.6" fill="#3c3c3c" stroke="#3c3c3c" stroke-width="0.3" textLength="24.33" lengthAdjust="spacingAndGlyphs">35.4%</text>
<text x="426.70" y="276.26" font-size="8.6" fill="#3c3c3c" stroke="#3c3c3c" stroke-width="0.3" textLength="24.20" lengthAdjust="spacingAndGlyphs">43.9%</text>
<text x="446.16" y="240.36" font-size="8.6" fill="#3c3c3c" stroke="#3c3c3c" stroke-width="0.3" textLength="24.45" lengthAdjust="spacingAndGlyphs">65.5%</text>
<text x="445.37" y="288.46" font-size="8.6" fill="#3c3c3c" stroke="#3c3c3c" stroke-width="0.3" textLength="24.23" lengthAdjust="spacingAndGlyphs">39.5%</text>
<text x="458.90" y="258.06" font-size="8.6" fill="#3c3c3c" stroke="#3c3c3c" stroke-width="0.3" textLength="24.20" lengthAdjust="spacingAndGlyphs">47.1%</text>
<text x="477.27" y="286.16" font-size="8.6" fill="#3c3c3c" stroke="#3c3c3c" stroke-width="0.3" textLength="24.33" lengthAdjust="spacingAndGlyphs">39.4%</text>
<text x="488.66" y="234.76" font-size="8.6" fill="#3c3c3c" stroke="#3c3c3c" stroke-width="0.3" textLength="24.45" lengthAdjust="spacingAndGlyphs">64.8%</text>
<text x="520.17" y="251.74" font-size="8.6" fill="#3c3c3c" stroke="#3c3c3c" stroke-width="0.3" textLength="23.43" lengthAdjust="spacingAndGlyphs">57.5%</text>
<text x="535.28" y="294.36" font-size="8.6" fill="#3c3c3c" stroke="#3c3c3c" stroke-width="0.3" textLength="23.41" lengthAdjust="spacingAndGlyphs">20.6%</text>
<text x="519.28" y="314.86" font-size="8.6" fill="#3c3c3c" stroke="#3c3c3c" stroke-width="0.3" textLength="23.22" lengthAdjust="spacingAndGlyphs">19.2%</text>
<line x1="564.30" y1="303.70" x2="582.60" y2="303.70" stroke="#000" stroke-width="2"/>
<text x="583.97" y="306.63" font-size="7.8" fill="#141414" stroke="#141414" stroke-width="0.3" textLength="32.05" lengthAdjust="spacingAndGlyphs">virF+virB</text>
<text x="411.05" y="412.50" font-size="14.0" font-weight="bold" fill="#111" stroke="#111" stroke-width="0.3" textLength="123.73" lengthAdjust="spacingAndGlyphs">Enterotoxin genes</text>
<line x1="366.30" y1="548.50" x2="553.50" y2="548.50" stroke="#c4c4c4" stroke-width="1.4"/>
<text x="344.57" y="550.98" font-size="7.2" fill="#141414" stroke="#141414" stroke-width="0.3" textLength="16.79" lengthAdjust="spacingAndGlyphs">0.0%</text>
<line x1="366.30" y1="535.63" x2="553.50" y2="535.63" stroke="#c4c4c4" stroke-width="1.4"/>
<text x="340.13" y="538.11" font-size="7.2" fill="#141414" stroke="#141414" stroke-width="0.3" textLength="21.24" lengthAdjust="spacingAndGlyphs">10.0%</text>
<line x1="366.30" y1="522.77" x2="553.50" y2="522.77" stroke="#c4c4c4" stroke-width="1.4"/>
<text x="340.33" y="525.25" font-size="7.2" fill="#141414" stroke="#141414" stroke-width="0.3" textLength="21.04" lengthAdjust="spacingAndGlyphs">20.0%</text>
<line x1="366.30" y1="509.90" x2="553.50" y2="509.90" stroke="#c4c4c4" stroke-width="1.4"/>
<text x="340.42" y="512.38" font-size="7.2" fill="#141414" stroke="#141414" stroke-width="0.3" textLength="20.95" lengthAdjust="spacingAndGlyphs">30.0%</text>
<line x1="366.30" y1="497.03" x2="553.50" y2="497.03" stroke="#c4c4c4" stroke-width="1.4"/>
<text x="340.53" y="499.51" font-size="7.2" fill="#141414" stroke="#141414" stroke-width="0.3" textLength="20.83" lengthAdjust="spacingAndGlyphs">40.0%</text>
<line x1="366.30" y1="484.17" x2="553.50" y2="484.17" stroke="#c4c4c4" stroke-width="1.4"/>
<text x="340.40" y="486.65" font-size="7.2" fill="#141414" stroke="#141414" stroke-width="0.3" textLength="20.96" lengthAdjust="spacingAndGlyphs">50.0%</text>
<line x1="366.30" y1="471.30" x2="553.50" y2="471.30" stroke="#c4c4c4" stroke-width="1.4"/>
<text x="340.32" y="473.78" font-size="7.2" fill="#141414" stroke="#141414" stroke-width="0.3" textLength="21.04" lengthAdjust="spacingAndGlyphs">60.0%</text>
<line x1="366.30" y1="458.43" x2="553.50" y2="458.43" stroke="#c4c4c4" stroke-width="1.4"/>
<text x="340.32" y="460.91" font-size="7.2" fill="#141414" stroke="#141414" stroke-width="0.3" textLength="21.05" lengthAdjust="spacingAndGlyphs">70.0%</text>
<line x1="366.30" y1="445.57" x2="553.50" y2="445.57" stroke="#c4c4c4" stroke-width="1.4"/>
<text x="340.38" y="448.05" font-size="7.2" fill="#141414" stroke="#141414" stroke-width="0.3" textLength="20.99" lengthAdjust="spacingAndGlyphs">80.0%</text>
<line x1="366.30" y1="432.70" x2="553.50" y2="432.70" stroke="#c4c4c4" stroke-width="1.4"/>
<text x="340.35" y="435.18" font-size="7.2" fill="#141414" stroke="#141414" stroke-width="0.3" textLength="21.01" lengthAdjust="spacingAndGlyphs">90.0%</text>
<line x1="367.90" y1="432.70" x2="367.90" y2="551.00" stroke="#a0a0a0" stroke-width="1.2"/>
<line x1="367.90" y1="548.50" x2="553.50" y2="548.50" stroke="#a0a0a0" stroke-width="1.2"/>
<line x1="367.90" y1="548.50" x2="367.90" y2="551.00" stroke="#a0a0a0" stroke-width="1.0"/>
<line x1="382.18" y1="548.50" x2="382.18" y2="551.00" stroke="#a0a0a0" stroke-width="1.0"/>
<line x1="396.45" y1="548.50" x2="396.45" y2="551.00" stroke="#a0a0a0" stroke-width="1.0"/>
<line x1="410.73" y1="548.50" x2="410.73" y2="551.00" stroke="#a0a0a0" stroke-width="1.0"/>
<line x1="425.01" y1="548.50" x2="425.01" y2="551.00" stroke="#a0a0a0" stroke-width="1.0"/>
<line x1="439.28" y1="548.50" x2="439.28" y2="551.00" stroke="#a0a0a0" stroke-width="1.0"/>
<line x1="453.56" y1="548.50" x2="453.56" y2="551.00" stroke="#a0a0a0" stroke-width="1.0"/>
<line x1="467.84" y1="548.50" x2="467.84" y2="551.00" stroke="#a0a0a0" stroke-width="1.0"/>
<line x1="482.12" y1="548.50" x2="482.12" y2="551.00" stroke="#a0a0a0" stroke-width="1.0"/>
<line x1="496.39" y1="548.50" x2="496.39" y2="551.00" stroke="#a0a0a0" stroke-width="1.0"/>
<line x1="510.67" y1="548.50" x2="510.67" y2="551.00" stroke="#a0a0a0" stroke-width="1.0"/>
<line x1="524.95" y1="548.50" x2="524.95" y2="551.00" stroke="#a0a0a0" stroke-width="1.0"/>
<line x1="539.22" y1="548.50" x2="539.22" y2="551.00" stroke="#a0a0a0" stroke-width="1.0"/>
<line x1="553.50" y1="548.50" x2="553.50" y2="551.00" stroke="#a0a0a0" stroke-width="1.0"/>
<text x="0" y="0" transform="translate(377.70,579.40) rotate(-90)" font-size="7.8" fill="#141414" stroke="#141414" stroke-width="0.3" textLength="27.01" lengthAdjust="spacingAndGlyphs">Nanjing</text>
<text x="0" y="0" transform="translate(391.98,570.17) rotate(-90)" font-size="7.8" fill="#141414" stroke="#141414" stroke-width="0.3" textLength="17.81" lengthAdjust="spacingAndGlyphs">Wuxi</text>
<text x="0" y="0" transform="translate(406.26,578.10) rotate(-90)" font-size="7.8" fill="#141414" stroke="#141414" stroke-width="0.3" textLength="25.71" lengthAdjust="spacingAndGlyphs">Xuzhou</text>
<text x="0" y="0" transform="translate(420.54,582.67) rotate(-90)" font-size="7.8" fill="#141414" stroke="#141414" stroke-width="0.3" textLength="30.29" lengthAdjust="spacingAndGlyphs">Nantong</text>
<text x="0" y="0" transform="translate(434.81,577.77) rotate(-90)" font-size="7.8" fill="#141414" stroke="#141414" stroke-width="0.3" textLength="25.37" lengthAdjust="spacingAndGlyphs">Suzhou</text>
<text x="0" y="0" transform="translate(449.09,585.71) rotate(-90)" font-size="7.8" fill="#141414" stroke="#141414" stroke-width="0.3" textLength="33.31" lengthAdjust="spacingAndGlyphs">Yangzhou</text>
<text x="0" y="0" transform="translate(463.37,585.71) rotate(-90)" font-size="7.8" fill="#141414" stroke="#141414" stroke-width="0.3" textLength="33.28" lengthAdjust="spacingAndGlyphs">Yancheng</text>
<text x="0" y="0" transform="translate(477.64,590.67) rotate(-90)" font-size="7.8" fill="#141414" stroke="#141414" stroke-width="0.3" textLength="38.27" lengthAdjust="spacingAndGlyphs">Changzhou</text>
<text x="0" y="0" transform="translate(491.92,577.28) rotate(-90)" font-size="7.8" fill="#141414" stroke="#141414" stroke-width="0.3" textLength="24.89" lengthAdjust="spacingAndGlyphs">Huaian</text>
<text x="0" y="0" transform="translate(506.20,595.87) rotate(-90)" font-size="7.8" fill="#141414" stroke="#141414" stroke-width="0.3" textLength="43.46" lengthAdjust="spacingAndGlyphs">Lianyungang</text>
<text x="0" y="0" transform="translate(520.47,576.00) rotate(-90)" font-size="7.8" fill="#141414" stroke="#141414" stroke-width="0.3" textLength="23.59" lengthAdjust="spacingAndGlyphs">Suqian</text>
<text x="0" y="0" transform="translate(534.75,586.00) rotate(-90)" font-size="7.8" fill="#141414" stroke="#141414" stroke-width="0.3" textLength="33.60" lengthAdjust="spacingAndGlyphs">Zhenjiang</text>
<text x="0" y="0" transform="translate(549.03,579.36) rotate(-90)" font-size="7.8" fill="#141414" stroke="#141414" stroke-width="0.3" textLength="26.96" lengthAdjust="spacingAndGlyphs">Taizhou</text>
<polyline points="375.30,477.60 388.70,471.00 403.40,452.00 418.30,481.30 432.10,469.50 445.80,459.00 460.50,480.50 475.00,475.40 489.10,478.60 502.30,462.60 516.40,458.40 530.80,517.80 545.40,499.60" fill="none" stroke="#000" stroke-width="1.35" stroke-linejoin="round"/>
<polyline points="377.10,491.40 389.30,469.45 403.40,444.10 417.60,474.30 431.30,448.00 446.10,456.30 459.90,457.90 473.00,467.10 489.20,456.50 501.80,441.70 518.80,472.00 529.60,508.20 544.00,455.80" fill="none" stroke="#000" stroke-width="1.8" stroke-linejoin="round" stroke-dasharray="3.4,2.0"/>
<text x="371.32" y="461.56" font-size="8.6" font-weight="bold" fill="#222222" stroke="#222222" stroke-width="0.2" textLength="21.48" lengthAdjust="spacingAndGlyphs">66.7%</text>
<text x="372.67" y="470.35" font-size="8.6" font-weight="bold" fill="#222222" stroke="#222222" stroke-width="0.2" textLength="14.93" lengthAdjust="spacingAndGlyphs">55%</text>
<text x="376.68" y="499.65" font-size="8.6" font-weight="bold" fill="#222222" stroke="#222222" stroke-width="0.2" textLength="15.52" lengthAdjust="spacingAndGlyphs">45%</text>
<text x="391.03" y="479.96" font-size="8.6" font-weight="bold" fill="#222222" stroke="#222222" stroke-width="0.2" textLength="20.86" lengthAdjust="spacingAndGlyphs">60.6%</text>
<text x="407.57" y="445.05" font-size="8.6" font-weight="bold" fill="#222222" stroke="#222222" stroke-width="0.2" textLength="20.83" lengthAdjust="spacingAndGlyphs">83.3%</text>
<text x="407.49" y="452.96" font-size="8.6" font-weight="bold" fill="#222222" stroke="#222222" stroke-width="0.2" textLength="20.60" lengthAdjust="spacingAndGlyphs">75.0%</text>
<text x="410.77" y="489.15" font-size="8.6" font-weight="bold" fill="#222222" stroke="#222222" stroke-width="0.2" textLength="20.82" lengthAdjust="spacingAndGlyphs">56.3%</text>
<text x="410.77" y="497.06" font-size="8.6" font-weight="bold" fill="#222222" stroke="#222222" stroke-width="0.2" textLength="20.82" lengthAdjust="spacingAndGlyphs">52.1%</text>
<text x="433.29" y="446.36" font-size="8.6" font-weight="bold" fill="#222222" stroke="#222222" stroke-width="0.2" textLength="20.19" lengthAdjust="spacingAndGlyphs">78.9%</text>
<text x="444.19" y="453.67" font-size="8.6" font-weight="bold" fill="#222222" stroke="#222222" stroke-width="0.2" textLength="20.50" lengthAdjust="spacingAndGlyphs">72.4%</text>
<text x="461.53" y="459.56" font-size="8.6" font-weight="bold" fill="#222222" stroke="#222222" stroke-width="0.2" textLength="20.86" lengthAdjust="spacingAndGlyphs">62.7%</text>
<text x="472.73" y="452.26" font-size="8.6" font-weight="bold" fill="#222222" stroke="#222222" stroke-width="0.2" textLength="21.17" lengthAdjust="spacingAndGlyphs">69.7%</text>
<text x="436.54" y="472.06" font-size="8.6" font-weight="bold" fill="#222222" stroke="#222222" stroke-width="0.2" textLength="14.35" lengthAdjust="spacingAndGlyphs">69%</text>
<text x="435.93" y="480.16" font-size="8.6" font-weight="bold" fill="#222222" stroke="#222222" stroke-width="0.2" textLength="20.86" lengthAdjust="spacingAndGlyphs">61.4%</text>
<text x="456.29" y="474.06" font-size="8.6" font-weight="bold" fill="#222222" stroke="#222222" stroke-width="0.2" textLength="20.50" lengthAdjust="spacingAndGlyphs">71.1%</text>
<text x="466.58" y="485.16" font-size="8.6" font-weight="bold" fill="#222222" stroke="#222222" stroke-width="0.2" textLength="20.41" lengthAdjust="spacingAndGlyphs">56.9%</text>
<text x="452.38" y="493.36" font-size="8.6" font-weight="bold" fill="#222222" stroke="#222222" stroke-width="0.2" textLength="20.41" lengthAdjust="spacingAndGlyphs">52.6%</text>
<text x="488.77" y="488.75" font-size="8.6" font-weight="bold" fill="#222222" stroke="#222222" stroke-width="0.2" textLength="21.13" lengthAdjust="spacingAndGlyphs">54.5%</text>
<text x="495.93" y="477.26" font-size="8.6" font-weight="bold" fill="#222222" stroke="#222222" stroke-width="0.2" textLength="20.86" lengthAdjust="spacingAndGlyphs">66.7%</text>
<text x="503.87" y="441.55" font-size="8.6" font-weight="bold" fill="#222222" stroke="#222222" stroke-width="0.2" textLength="20.83" lengthAdjust="spacingAndGlyphs">83.3%</text>
<text x="517.58" y="455.96" font-size="8.6" font-weight="bold" fill="#222222" stroke="#222222" stroke-width="0.2" textLength="21.32" lengthAdjust="spacingAndGlyphs">70.0%</text>
<text x="546.31" y="455.96" font-size="8.6" font-weight="bold" fill="#222222" stroke="#222222" stroke-width="0.2" textLength="18.86" lengthAdjust="spacingAndGlyphs">75.0%</text>
<text x="518.73" y="469.76" font-size="8.6" font-weight="bold" fill="#222222" stroke="#222222" stroke-width="0.2" textLength="20.66" lengthAdjust="spacingAndGlyphs">62.5%</text>
<text x="543.13" y="498.05" font-size="8.6" font-weight="bold" fill="#222222" stroke="#222222" stroke-width="0.2" textLength="21.58" lengthAdjust="spacingAndGlyphs">38.2%</text>
<text x="538.33" y="517.55" font-size="8.6" font-weight="bold" fill="#222222" stroke="#222222" stroke-width="0.2" textLength="21.37" lengthAdjust="spacingAndGlyphs">30.8%</text>
<text x="538.24" y="527.95" font-size="8.6" font-weight="bold" fill="#222222" stroke="#222222" stroke-width="0.2" textLength="20.95" lengthAdjust="spacingAndGlyphs">23.1%</text>
<line x1="565.00" y1="504.60" x2="587.00" y2="504.60" stroke="#000" stroke-width="1.9" stroke-dasharray="4,2"/>
<text x="589.59" y="507.05" font-size="7.8" fill="#141414" stroke="#141414" stroke-width="0.3" textLength="43.21" lengthAdjust="spacingAndGlyphs">set1A+set1B</text>
<line x1="564.90" y1="520.00" x2="586.50" y2="520.00" stroke="#000" stroke-width="2"/>
<text x="589.57" y="522.06" font-size="7.8" fill="#141414" stroke="#141414" stroke-width="0.3" textLength="13.05" lengthAdjust="spacingAndGlyphs">sen</text>
</g>
</svg>
</body></html>
